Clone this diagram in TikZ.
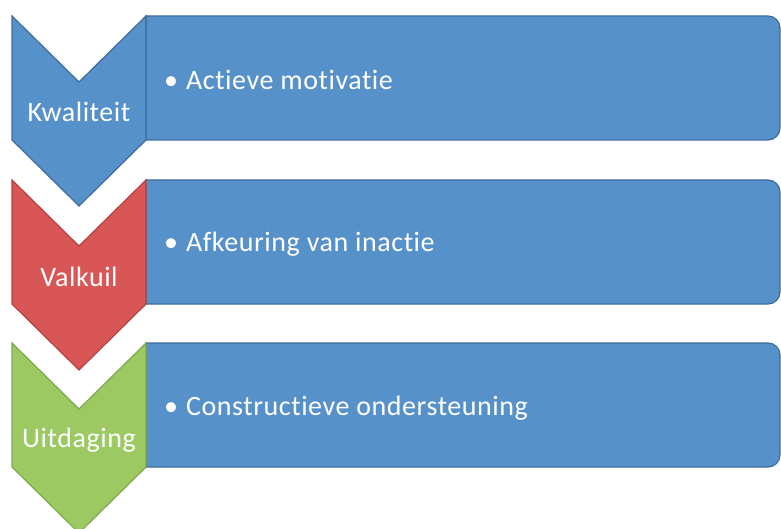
\documentclass[tikz,border=0pt]{standalone}
\usepackage{fontspec}
\setmainfont{Carlito}[Ligatures=NoCommon,LetterSpace=2]
\definecolor{barblue}{RGB}{86,145,201}
\definecolor{barline}{RGB}{62,108,156}
\definecolor{valred}{RGB}{216,86,86}
\definecolor{valline}{RGB}{180,66,66}
\definecolor{uitgreen}{RGB}{156,201,98}
\definecolor{uitline}{RGB}{128,168,78}
\tikzset{bar/.style={fill=barblue,draw=barline,line width=1.2pt},
  chev/.style={line width=1.2pt,line join=miter},
  label node/.style={text=white,font=\fontsize{28}{33}\selectfont,inner sep=0pt},
  item node/.style={text=white,font=\fontsize{28}{33}\selectfont,inner sep=0pt,anchor=west} }

\begin{document}
\begin{tikzpicture}[x=1pt,y=1pt]
  \useasboundingbox (0,0) rectangle (781,-529);
  \clip (0,0) rectangle (781,-529);

  % bars
  \draw[bar] (146,-16) -- (768,-16) arc[start angle=90,end angle=0,radius=12pt]
    -- (780,-128) arc[start angle=0,end angle=-90,radius=12pt] -- (146,-140) -- cycle;
  \draw[bar] (146,-180) -- (768,-180) arc[start angle=90,end angle=0,radius=12pt]
    -- (780,-292) arc[start angle=0,end angle=-90,radius=12pt] -- (146,-304) -- cycle;
  \draw[bar] (146,-343) -- (768,-343) arc[start angle=90,end angle=0,radius=12pt]
    -- (780,-455) arc[start angle=0,end angle=-90,radius=12pt] -- (146,-467) -- cycle;

  % chevrons
  \draw[chev,fill=barblue,draw=barline] (12,-16) -- (79,-82) -- (146,-16) -- (146,-140)
    -- (79,-206) -- (12,-140) -- cycle;
  \draw[chev,fill=valred,draw=valline] (12,-180) -- (79,-246) -- (146,-180) -- (146,-304)
    -- (79,-370) -- (12,-304) -- cycle;
  \draw[chev,fill=uitgreen,draw=uitline] (12,-343) -- (79,-409) -- (146,-343) -- (146,-467)
    -- (79,-533) -- (12,-467) -- cycle;

  \node[label node] (kwal) at (79,-112) {Kwaliteit};
  \node[label node] (valk) at (79,-277) {Valkuil};
  \node[label node] (uitd) at (79,-440) {Uitdaging};

  \node[item node] (act) at (164,-80) {•\hspace{8pt}Actieve motivatie};
  \node[item node] (afk) at (164,-244) {•\hspace{8pt}Afkeuring van inactie};
  \node[item node] (con) at (164,-408) {•\hspace{8pt}Constructieve ondersteuning};
\end{tikzpicture}
\end{document}
